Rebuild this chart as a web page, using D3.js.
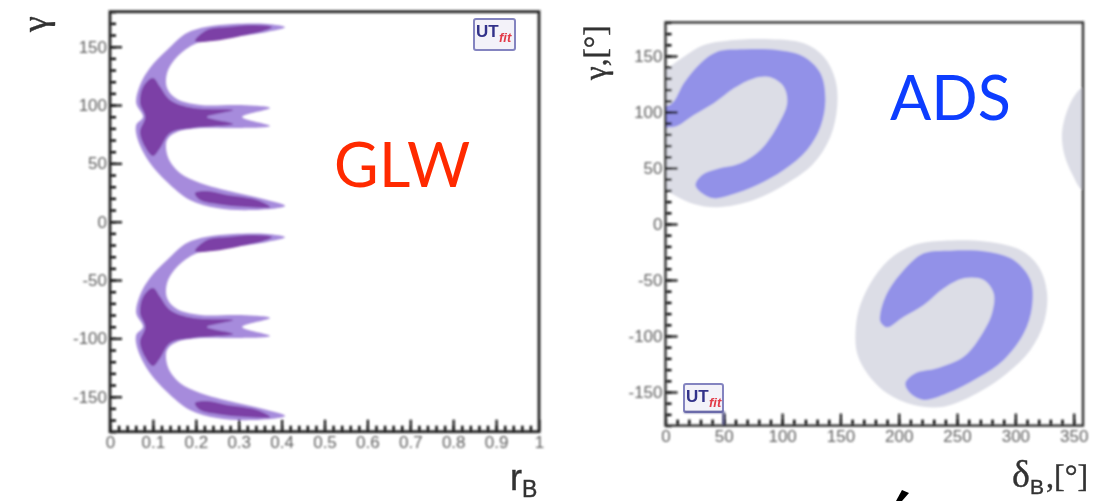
<!DOCTYPE html>
<html>
<head>
<meta charset="utf-8">
<script src="https://d3js.org/d3.v7.min.js"></script>
<style>
  html, body { margin: 0; padding: 0; background: #fff; }
  svg { display: block; }
  .tick text { fill: #5e5e5e; font-family: "Liberation Sans", Arial, sans-serif; font-size: 17px; }
  .axis path { display: none; }
  .major line { stroke: #111; stroke-width: 2.2; }
  .minor line { stroke: #000; stroke-width: 2.4; }
</style>
</head>
<body>
<div id="chart"></div>
<script>
// tick labels
var rbTicks = [0, 0.1, 0.2, 0.3, 0.4, 0.5, 0.6, 0.7, 0.8, 0.9, 1];
var gammaTicks = [-150, -100, -50, 0, 50, 100, 150];
var deltaTicks = [0, 50, 100, 150, 200, 250, 300, 350];

// GLW contours, [rB, gamma]
var glwUpperOuter = [[.408,166.6],[.366,169.4],[.287,169.4],[.226,167.1],[.179,161.7],[.133,147.1],[.093,131.7],[.070,117.1],[.061,101.7],[.077,89.7],[.061,82.9],[.065,70],[.093,50.3],[.133,34],[.186,18.6],[.249,11.7],[.333,10],[.408,13.5],[.366,18.6],[.287,25.4],[.210,33.2],[.163,41.7],[.135,55.4],[.133,70],[.156,76.9],[.210,80.3],[.303,80.3],[.373,82],[.308,89.7],[.373,97.4],[.303,100],[.210,100],[.156,105.1],[.133,114.6],[.133,127.4],[.156,141.1],[.203,153.1],[.287,158.3],[.366,162.6]];
var glwUpperCore = [[.100,123.1],[.117,115.4],[.140,104.3],[.193,97.4],[.287,95.7],[.226,89.7],[.287,83.7],[.193,80.3],[.140,76],[.117,63.2],[.100,56.3],[.082,64],[.070,76.9],[.082,89.7],[.070,101.7],[.077,115.4]];
var glwUpperTop = [[.378,166.8],[.333,168.6],[.273,166.8],[.226,164.3],[.198,154.8],[.240,154.8],[.303,159],[.357,163.4]];
var glwUpperBottom = [[.198,24.6],[.210,18.6],[.249,15.2],[.319,12.6],[.373,12.6],[.343,18.6],[.273,22.9],[.226,26.3]];
var glwLowerOuter = [[.408,-13.4],[.366,-10.6],[.287,-10.6],[.226,-12.9],[.179,-18.3],[.133,-32.9],[.093,-48.3],[.070,-62.9],[.061,-78.3],[.077,-90.3],[.061,-97.1],[.065,-110],[.093,-129.7],[.133,-146],[.186,-161.4],[.249,-168.3],[.333,-170],[.408,-166.5],[.366,-161.4],[.287,-154.6],[.210,-146.8],[.163,-138.3],[.135,-124.6],[.133,-110],[.156,-103.1],[.210,-99.7],[.303,-99.7],[.373,-98],[.308,-90.3],[.373,-82.6],[.303,-80],[.210,-80],[.156,-74.9],[.133,-65.4],[.133,-52.6],[.156,-38.9],[.203,-26.9],[.287,-21.7],[.366,-17.4]];
var glwLowerCore = [[.100,-56.9],[.117,-64.6],[.140,-75.7],[.193,-82.6],[.287,-84.3],[.226,-90.3],[.287,-96.3],[.193,-99.7],[.140,-104],[.117,-116.8],[.100,-123.7],[.082,-116],[.070,-103.1],[.082,-90.3],[.070,-78.3],[.077,-64.6]];
var glwLowerTop = [[.378,-13.2],[.333,-11.4],[.273,-13.2],[.226,-15.7],[.198,-25.2],[.240,-25.2],[.303,-21],[.357,-16.6]];
var glwLowerBottom = [[.198,-155.4],[.210,-161.4],[.249,-164.8],[.319,-167.4],[.373,-167.4],[.343,-161.4],[.273,-157.1],[.226,-153.7]];

// ADS contours, [deltaB, gamma]
var adsUpperOuter = [[0,137.5],[15.7,149.4],[32.9,159.8],[52.9,163.7],[90,164.9],[118.6,161.3],[135.7,149.4],[145.7,128.6],[147.2,104.7],[141.4,78],[127.1,54.2],[104.3,36.3],[75.7,21.4],[44.3,14.9],[24.3,17.9],[10,24.4],[0,30.4],[-15,40],[-25,85],[-15,125]];
var adsUpperInner = [[5.7,107.8],[15.7,125.6],[30,143.5],[44.3,153.8],[67.1,156],[95.7,155.4],[118.6,149.4],[132.9,134.6],[137.1,110.7],[132.9,86.9],[121.4,66.1],[101.4,48.2],[78.6,34.8],[55.7,25.9],[41.4,22.9],[31.4,27.4],[25.7,34.8],[31.4,43.8],[44.3,49.1],[64.3,54.2],[81.4,66.1],[95.7,86.9],[104.3,107.8],[101.4,122.6],[90,131],[75.7,130],[58.6,121.2],[41.4,107.8],[24.3,97.3],[10,87.5],[1,86],[-10,84],[-10,100]];
var adsLowerOuter = [[162.9,-97.6],[165.7,-76.8],[175.7,-53],[191.4,-32.1],[212.9,-18.8],[238.6,-14.9],[275.7,-15.8],[304.3,-23.2],[320,-38.1],[327.2,-61.9],[324.3,-88.7],[312.9,-112.5],[292.9,-133.3],[267.2,-151.2],[238.6,-163.1],[212.9,-161.6],[190,-151.2],[172.9,-133.3],[164.3,-115.4]];
var adsLowerInner = [[184.3,-79.7],[190,-61.9],[204.3,-41.1],[221.4,-26.2],[244.3,-23.8],[275.7,-24.7],[298.6,-32.1],[312.9,-50],[314.3,-73.8],[307.2,-97.6],[290,-121.4],[267.2,-137.8],[241.5,-151.2],[221.4,-157.1],[210,-151.2],[205.7,-142.2],[214.3,-133.3],[232.9,-128.8],[255.7,-118.5],[270,-100.6],[280,-79.7],[281.4,-61.9],[272.9,-50],[255.7,-48.5],[238.6,-57.4],[221.4,-72.3],[204.3,-82.8],[190,-92.2],[184.3,-87.2]];
var adsEdge = [[358,122],[351,115],[344,100],[340,81],[342,62],[349,44],[358,30],[375,30],[375,125]];

var purpleLight = "#a68bdc", purpleDark = "#7c3fa6", greyFill = "#dcdde6", blueFill = "#9291e8";

var svg = d3.select("#chart").append("svg").attr("width", 1095).attr("height", 501);

var defs = svg.append("defs");
defs.append("filter").attr("id", "soft").append("feGaussianBlur").attr("stdDeviation", 1);
defs.append("filter").attr("id", "softer").append("feGaussianBlur").attr("stdDeviation", 0.5);

// left panel
var xL = d3.scaleLinear().domain([0, 1]).range([110, 539]);
var yL = d3.scaleLinear().domain([-180, 180]).range([431.7, 11.7]);
// right panel, frame stops just before 360
var xR = d3.scaleLinear().domain([0, 358]).range([665.5, 1083]);
var yR = d3.scaleLinear().domain([-180, 180]).range([425.6, 22.4]);

function drawPanel(id, x, y, xTicks, xStep, shapes, frameColor, frameWidth) {
  var x0 = x.range()[0], x1 = x.range()[1], y0 = y.range()[0], y1 = y.range()[1];
  defs.append("clipPath").attr("id", "clip-" + id).append("rect")
    .attr("x", x0).attr("y", y1).attr("width", x1 - x0).attr("height", y0 - y1);

  var g = svg.append("g").attr("filter", "url(#soft)");

  var line = d3.line()
    .x(function (d) { return x(d[0]); })
    .y(function (d) { return y(d[1]); })
    .curve(d3.curveCatmullRomClosed.alpha(0.5));

  g.append("g").attr("clip-path", "url(#clip-" + id + ")")
    .selectAll("path").data(shapes).enter().append("path")
    .attr("d", function (d) { return line(d.points); })
    .attr("fill", function (d) { return d.color; });

  // minor ticks first, majors on top
  var xMinor = d3.range(x.domain()[0], x.domain()[1], xStep);
  var yMinor = d3.range(-180, 181, 10);

  g.append("g").attr("class", "axis minor").attr("transform", "translate(0," + y0 + ")")
    .call(d3.axisBottom(x).tickValues(xMinor).tickSize(-6).tickFormat(""));
  g.append("g").attr("class", "axis minor").attr("transform", "translate(" + x0 + ",0)")
    .call(d3.axisLeft(y).tickValues(yMinor).tickSize(-6).tickFormat(""));

  g.append("g").attr("class", "axis major").attr("transform", "translate(0," + y0 + ")")
    .call(d3.axisBottom(x).tickValues(xTicks).tickSizeInner(-12).tickSizeOuter(0).tickPadding(4)
      .tickFormat(function (d) { return String(d); }));
  g.append("g").attr("class", "axis major").attr("transform", "translate(" + x0 + ",0)")
    .call(d3.axisLeft(y).tickValues(gammaTicks).tickSizeInner(-12).tickSizeOuter(0).tickPadding(3)
      .tickFormat(function (d) { return String(d); }));

  g.append("rect").attr("x", x0).attr("y", y1).attr("width", x1 - x0).attr("height", y0 - y1)
    .attr("fill", "none").attr("stroke", frameColor).attr("stroke-width", frameWidth);
}

drawPanel("glw", xL, yL, rbTicks, 0.02, [
  { points: glwUpperOuter, color: purpleLight },
  { points: glwLowerOuter, color: purpleLight },
  { points: glwUpperCore, color: purpleDark },
  { points: glwUpperTop, color: purpleDark },
  { points: glwUpperBottom, color: purpleDark },
  { points: glwLowerCore, color: purpleDark },
  { points: glwLowerTop, color: purpleDark },
  { points: glwLowerBottom, color: purpleDark }
], "#222", 2.8);

drawPanel("ads", xR, yR, deltaTicks, 10, [
  { points: adsUpperOuter, color: greyFill },
  { points: adsLowerOuter, color: greyFill },
  { points: adsEdge, color: greyFill },
  { points: adsUpperInner, color: blueFill },
  { points: adsLowerInner, color: blueFill }
], "#333", 2.4);

// UTfit logos
function logo(px, py, w, h) {
  var l = svg.append("g").attr("transform", "translate(" + px + "," + py + ")").attr("filter", "url(#softer)");
  l.append("rect").attr("width", w).attr("height", h).attr("rx", 2)
    .attr("fill", "#f3f2f9").attr("stroke", "#8484c0").attr("stroke-width", 2);
  l.append("text").attr("x", 2).attr("y", 18).attr("fill", "#33338a")
    .style("font", "bold 17px 'Liberation Sans', Arial").text("UT");
  l.append("text").attr("x", 25).attr("y", 23).attr("fill", "#e23a48")
    .style("font", "bold italic 13px 'Liberation Sans', Arial").text("fit");
}
logo(474, 19, 41, 31);
logo(684, 384, 39, 28);
// the right logo's lower edge and side run heavier, down to the axis
svg.append("path").attr("d", d3.line()([[684, 412], [723.5, 412], [723.5, 425]]))
  .attr("fill", "none").attr("stroke", "#5a5a9a").attr("stroke-width", 2).attr("filter", "url(#soft)");

// axis titles
var titles = svg.append("g").attr("filter", "url(#softer)").attr("fill", "#333")
  .attr("stroke", "#333").attr("stroke-width", 0.4);
titles.append("text").attr("transform", "translate(47,32) rotate(-90)")
  .style("font", "36px 'Liberation Serif'").text("γ");
titles.append("text").attr("transform", "translate(606,80) rotate(-90)")
  .style("font", "31px 'Liberation Serif'").text("γ,[°]");
titles.append("text").attr("x", 510).attr("y", 490)
  .style("font", "36px 'Liberation Sans', Arial").text("r");
titles.append("text").attr("x", 522).attr("y", 497)
  .style("font", "23px 'Liberation Sans', Arial").text("B");
titles.append("text").attr("x", 1012).attr("y", 487)
  .style("font", "38px 'Liberation Serif'").text("δ");
titles.append("text").attr("x", 1030).attr("y", 494)
  .style("font", "21px 'Liberation Sans', Arial").text("B");
titles.append("text").attr("x", 1046).attr("y", 487)
  .style("font", "32px 'Liberation Serif'").text(",[°]");

// big labels
var big = svg.append("g").attr("filter", "url(#softer)");
big.append("text").attr("x", 334).attr("y", 187).attr("fill", "#ff2b00")
  .style("font", "400 61px Lato").style("letter-spacing", "0.5px").text("GLW");
big.append("text").attr("x", 890).attr("y", 120).attr("fill", "#0a3dff")
  .style("font", "400 61px Lato").text("ADS");

// stray stroke cut off by the bottom edge
svg.append("path").attr("d", d3.line()([[902, 490], [909, 493], [902, 501], [896, 501]]))
  .attr("fill", "#000");
</script>
</body>
</html>
